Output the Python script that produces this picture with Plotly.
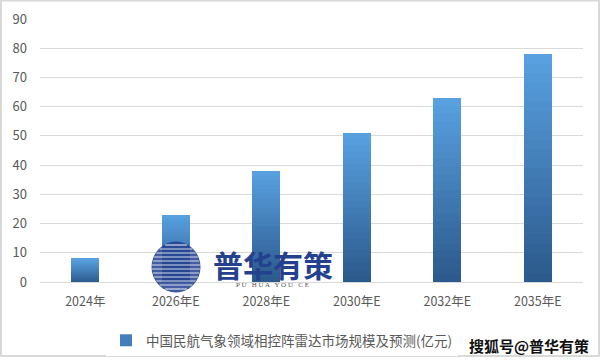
import plotly.graph_objects as go
import math

categories = ["2024年", "2026年E", "2028年E", "2030年E", "2032年E", "2035年E"]
values = [8, 23, 38, 51, 63, 78]
series_name = "中国民航气象领域相控阵雷达市场规模及预测(亿元)"
y_ticks = [0, 10, 20, 30, 40, 50, 60, 70, 80, 90]

top_rgb = (88, 160, 224)
bot_rgb = (44, 90, 140)
N = 24

PW, PH = 543, 263  # plot area size in px
L, T = 40, 19

fig = go.Figure()
for i in range(N):
    t = i / (N - 1)
    r = round(bot_rgb[0] + (top_rgb[0] - bot_rgb[0]) * t)
    g = round(bot_rgb[1] + (top_rgb[1] - bot_rgb[1]) * t)
    b = round(bot_rgb[2] + (top_rgb[2] - bot_rgb[2]) * t)
    fig.add_trace(go.Bar(
        x=categories, y=[v / N for v in values],
        marker=dict(color=f"rgb({r},{g},{b})", line=dict(width=0)),
        name=series_name, showlegend=(i == N // 2), legendgroup="s",
        hoverinfo="skip",
    ))

def px(x):
    return (x - L) / PW

def py(y):
    return (T + PH - y) / PH

shapes = [
    dict(type="rect", xref="paper", yref="paper", x0=px(1), x1=px(599),
         y0=py(356), y1=py(0.5), line=dict(color="#d9d9d9", width=2)),
    dict(type="circle", xref="paper", yref="paper",
         x0=px(152), x1=px(200), y0=py(292), y1=py(242),
         fillcolor="rgba(35,65,143,0.85)", line=dict(color="rgba(35,65,143,0.9)", width=1)),
]
cx, cy, rad = 176, 267, 25
for k in range(-22, 23, 4):
    yy = cy + k
    hw = math.sqrt(max(rad * rad - k * k, 0)) - 1
    if hw > 2:
        shapes.append(dict(type="line", xref="paper", yref="paper",
                           x0=px(cx - hw), x1=px(cx + hw), y0=py(yy), y1=py(yy),
                           line=dict(color="rgba(255,255,255,0.8)", width=1.2)))

fig.update_layout(
    barmode="stack", bargap=0.69,
    width=601, height=361,
    margin=dict(l=L, r=601 - L - PW, t=T, b=361 - T - PH, autoexpand=False),
    paper_bgcolor="white", plot_bgcolor="white",
    font=dict(family="Noto Sans CJK SC, sans-serif", color="#595959", size=12),
    showlegend=True,
    legend=dict(orientation="h", x=px(106), xanchor="left", y=py(325), yanchor="top",
                font=dict(size=13.5, color="#595959"), itemwidth=30,
                itemsizing="constant"),
    xaxis=dict(showgrid=False, showline=True, linecolor="#d9d9d9", ticks="",
               tickfont=dict(size=12.5, color="#595959"), ticklabelstandoff=8),
    yaxis=dict(range=[0, 90], tickvals=y_ticks, showgrid=True, gridcolor="#d9d9d9",
               gridwidth=1, zeroline=False, showline=False, ticks="",
               tickfont=dict(size=13, color="#595959"), ticklabelstandoff=12),
    shapes=shapes,
    annotations=[
        dict(text="<b>普华有策</b>", xref="paper", yref="paper",
             x=px(273), y=py(264), xanchor="center", yanchor="middle", showarrow=False,
             font=dict(size=30, color="#23418f", family="Noto Sans CJK SC")),
        dict(text="P U   H U A   Y O U   C E", xref="paper", yref="paper",
             x=px(272), y=py(285), xanchor="center", yanchor="middle", showarrow=False,
             font=dict(size=7, color="#555555", family="Liberation Serif")),
        dict(text="<b>搜狐号@普华有策</b>", xref="paper", yref="paper",
             x=px(591), y=py(345), xanchor="right", yanchor="middle", showarrow=False,
             font=dict(size=15, color="#111111", family="Noto Sans CJK SC")),
    ],
)

fig.write_html("out.html")
